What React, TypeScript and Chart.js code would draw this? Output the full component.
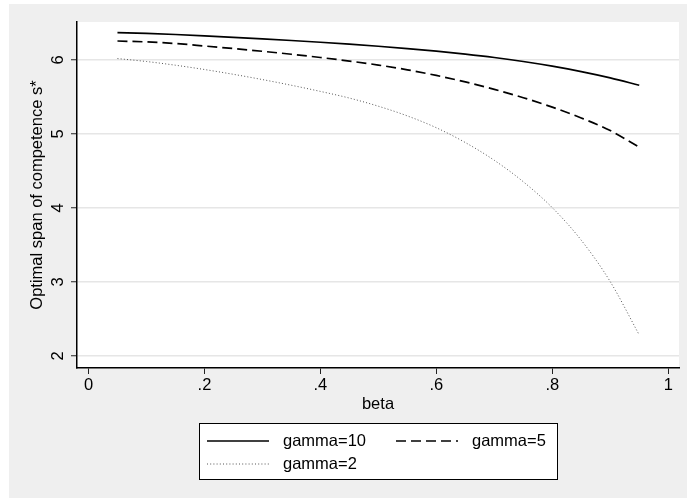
import React, { useEffect, useRef } from "react";
import { Chart, registerables } from "chart.js";

Chart.register(...registerables);

const beta = [0.05, 0.1, 0.15, 0.2, 0.25, 0.3, 0.35, 0.4, 0.45, 0.5, 0.55, 0.6, 0.65, 0.7, 0.75, 0.8, 0.85, 0.9, 0.95];
const gamma10 = [6.37, 6.36, 6.345, 6.327, 6.307, 6.286, 6.264, 6.24, 6.214, 6.186, 6.155, 6.12, 6.08, 6.034, 5.98, 5.917, 5.844, 5.759, 5.659];
const gamma5 = [6.257, 6.245, 6.223, 6.19, 6.155, 6.118, 6.078, 6.034, 5.986, 5.932, 5.868, 5.792, 5.704, 5.604, 5.491, 5.363, 5.217, 5.047, 4.822];
const gamma2 = [6.02, 5.98, 5.93, 5.872, 5.807, 5.736, 5.659, 5.576, 5.486, 5.376, 5.245, 5.085, 4.885, 4.645, 4.355, 4.005, 3.565, 3.005, 2.285];
const seriesLabels = ["gamma=10", "gamma=5", "gamma=2"];
const xTickValues = [0, 0.2, 0.4, 0.6, 0.8, 1];
const xTickLabels = ["0", ".2", ".4", ".6", ".8", "1"];
const yTickValues = [2, 3, 4, 5, 6];
const yTickLabels = ["2", "3", "4", "5", "6"];
const xTitle = "beta";
const yTitle = "Optimal span of competence s*";

const FONT = "'Liberation Sans', Arial, Helvetica, sans-serif";
const FSIZE = 16.5;

const bgPlugin = {
  id: "stataBg",
  beforeDraw(chart: any) {
    const { ctx, chartArea } = chart;
    ctx.save();
    ctx.fillStyle = "#ffffff";
    ctx.fillRect(0, 0, chart.width, chart.height);
    ctx.fillStyle = "#efefef";
    ctx.fillRect(9, 4, chart.width - 9, 494);
    ctx.fillStyle = "#ffffff";
    ctx.fillRect(chartArea.left, chartArea.top, chartArea.right - chartArea.left, chartArea.bottom - chartArea.top);
    ctx.restore();
  },
};

const legendPlugin = {
  id: "stataLegend",
  afterDraw(chart: any) {
    const ctx = chart.ctx;
    ctx.save();
    const bx = 199.5, by = 423.5, bw = 358, bh = 56;
    ctx.fillStyle = "#ffffff";
    ctx.fillRect(bx, by, bw, bh);
    ctx.strokeStyle = "#000000";
    ctx.lineWidth = 1;
    ctx.strokeRect(bx, by, bw, bh);
    const colX = [207, 396];
    const rowY = [441, 464];
    chart.data.datasets.forEach((ds: any, i: number) => {
      const x = colX[i % 2];
      const y = rowY[Math.floor(i / 2)];
      ctx.beginPath();
      ctx.setLineDash(ds.borderDash || []);
      ctx.strokeStyle = ds.borderColor;
      ctx.lineWidth = ds.borderWidth;
      ctx.moveTo(x, y);
      ctx.lineTo(x + 62, y);
      ctx.stroke();
      ctx.setLineDash([]);
      ctx.fillStyle = "#000000";
      ctx.font = `${FSIZE}px ${FONT}`;
      ctx.textBaseline = "middle";
      ctx.textAlign = "left";
      ctx.fillText(ds.label, x + 76, y);
    });
    ctx.restore();
  },
};

export default function App() {
  const ref = useRef<HTMLCanvasElement | null>(null);

  useEffect(() => {
    if (!ref.current) return;
    const mk = (ys: number[]) => beta.map((b, i) => ({ x: b, y: ys[i] }));
    const chart = new Chart(ref.current, {
      type: "line",
      data: {
        datasets: [
          { label: seriesLabels[0], data: mk(gamma10), borderColor: "#000000", borderWidth: 1.7, pointRadius: 0, fill: false, cubicInterpolationMode: "monotone" },
          { label: seriesLabels[1], data: mk(gamma5), borderColor: "#000000", borderWidth: 1.7, borderDash: [10, 5], pointRadius: 0, fill: false, cubicInterpolationMode: "monotone" },
          { label: seriesLabels[2], data: mk(gamma2), borderColor: "#555555", borderWidth: 1, borderDash: [1, 2.2], pointRadius: 0, fill: false, cubicInterpolationMode: "monotone" },
        ],
      } as any,
      options: {
        animation: false,
        responsive: false,
        devicePixelRatio: 1,
        layout: { padding: { left: 28, top: 22, right: 8, bottom: 87 } },
        plugins: { legend: { display: false }, tooltip: { enabled: false } },
        font: { family: FONT, size: FSIZE },
        scales: {
          x: {
            type: "linear",
            min: -0.0198,
            max: 1.0186,
            afterBuildTicks: (s: any) => { s.ticks = xTickValues.map((v) => ({ value: v })); },
            afterFit: (s: any) => { s.height = 46; },
            ticks: {
              color: "#000000",
              font: { family: FONT, size: FSIZE },
              padding: 2,
              maxRotation: 0,
              minRotation: 0,
              callback: (_v: any, i: number) => xTickLabels[i],
            },
            grid: { drawOnChartArea: false, drawTicks: true, tickLength: 6, tickColor: "#222222", tickWidth: 1 },
            border: { display: true, color: "#000000", width: 1.5 },
            title: { display: true, text: xTitle, color: "#000000", font: { family: FONT, size: FSIZE }, padding: 0 },
          },
          y: {
            type: "linear",
            min: 1.838,
            max: 6.514,
            afterBuildTicks: (s: any) => { s.ticks = yTickValues.map((v) => ({ value: v })); },
            afterFit: (s: any) => { s.width = 49; },
            ticks: {
              color: "#000000",
              font: { family: FONT, size: FSIZE },
              padding: 8,
              minRotation: 90,
              maxRotation: 90,
              crossAlign: "center",
              callback: (_v: any, i: number) => yTickLabels[i],
            },
            grid: { drawOnChartArea: true, color: "#e6e6e6", lineWidth: 1.5, drawTicks: true, tickLength: 6, tickColor: "#222222", tickWidth: 1 },
            border: { display: true, color: "#000000", width: 1.5 },
            title: { display: true, text: yTitle, color: "#000000", font: { family: FONT, size: FSIZE }, padding: 0 },
          },
        },
      } as any,
      plugins: [bgPlugin, legendPlugin],
    });
    return () => chart.destroy();
  }, []);

  return (
    <div style={{ position: "fixed", left: 0, top: 0, width: 687, height: 501, background: "#ffffff" }}>
      <canvas ref={ref} width={687} height={501} style={{ display: "block", width: 687, height: 501 }} />
    </div>
  );
}
